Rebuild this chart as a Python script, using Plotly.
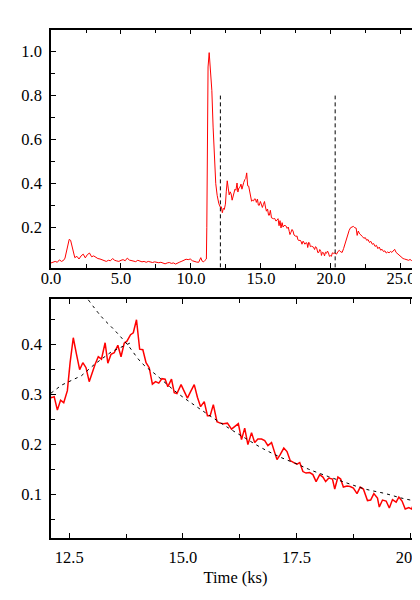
import plotly.graph_objects as go

# light curve: time (ks) and normalised count rate
t_ks = [
    0.0, 0.15, 0.3, 0.45, 0.6, 0.75, 0.9, 1.0, 1.1, 1.2, 1.3, 1.4, 1.5, 1.6, 1.7, 1.85,
    2.0, 2.15, 2.3, 2.45, 2.6, 2.75, 2.9, 3.05, 3.2, 3.35, 3.5, 3.65, 3.8, 3.95, 4.1, 4.25,
    4.4, 4.55, 4.7, 4.85, 5.0, 5.15, 5.3, 5.45, 5.6, 5.75, 5.9, 6.05, 6.2, 6.35, 6.5, 6.65,
    6.8, 6.95, 7.1, 7.25, 7.4, 7.55, 7.7, 7.85, 8.0, 8.15, 8.3, 8.45, 8.6, 8.75, 8.9, 9.05,
    9.2, 9.35, 9.5, 9.65, 9.8, 9.95, 10.1, 10.25, 10.4, 10.55, 10.7, 10.8, 10.9, 11.0, 11.1,
    11.13, 11.17, 11.22, 11.3, 11.39, 11.49, 11.58, 11.68, 11.77, 11.87, 11.99,
    12.10, 12.17, 12.24, 12.31, 12.38, 12.46, 12.52, 12.59, 12.66, 12.73, 12.80, 12.87,
    12.94, 13.00, 13.07, 13.14, 13.21, 13.29, 13.35, 13.42, 13.49, 13.57, 13.64, 13.71,
    13.77, 13.85, 13.91, 13.98, 14.05, 14.12, 14.19, 14.26, 14.33, 14.40, 14.47, 14.54,
    14.61, 14.67, 14.75, 14.81, 14.87, 14.96, 15.04, 15.10, 15.17, 15.25, 15.32, 15.39,
    15.47, 15.54, 15.60, 15.67, 15.75, 15.82, 15.89, 15.98, 16.07, 16.15, 16.22, 16.29,
    16.36, 16.43, 16.51, 16.58, 16.65, 16.73, 16.80, 16.87, 16.95, 17.02, 17.07, 17.14,
    17.22, 17.29, 17.36, 17.44, 17.51, 17.57, 17.64, 17.71, 17.79, 17.86, 17.93, 18.01,
    18.08, 18.14, 18.21, 18.29, 18.34, 18.41, 18.47, 18.53, 18.61, 18.68, 18.75, 18.83,
    18.90, 18.97, 19.06, 19.13, 19.20, 19.28, 19.32, 19.39, 19.47, 19.54, 19.61, 19.69,
    19.75, 19.82, 19.89, 19.97, 20.03, 20.10, 20.16, 20.22,
    20.29, 20.4, 20.5, 20.6, 20.7, 20.8, 20.9, 21.0, 21.1, 21.2, 21.3, 21.4, 21.5, 21.6,
    21.7, 21.8, 21.87, 21.95, 22.05, 22.15, 22.25, 22.35, 22.45, 22.55, 22.65, 22.75,
    22.85, 22.95, 23.05, 23.15, 23.25, 23.35, 23.45, 23.55, 23.65, 23.75, 23.85, 23.95,
    24.05, 24.15, 24.25, 24.35, 24.45, 24.55, 24.65, 24.75, 24.85, 24.95, 25.05, 25.15,
    25.25, 25.35, 25.45, 25.55, 25.65, 25.75, 25.85, 25.95, 26.05, 26.15, 26.25, 26.35, 26.45,
]
rate = [
    0.040, 0.044, 0.047, 0.043, 0.054, 0.047, 0.052, 0.062, 0.090, 0.125, 0.147, 0.143, 0.118, 0.085, 0.064, 0.070,
    0.058, 0.072, 0.080, 0.063, 0.078, 0.085, 0.068, 0.072, 0.064, 0.060, 0.058, 0.054, 0.050, 0.047, 0.052, 0.050,
    0.060, 0.052, 0.049, 0.047, 0.052, 0.055, 0.050, 0.062, 0.053, 0.050, 0.048, 0.046, 0.052, 0.049, 0.045, 0.047,
    0.043, 0.047, 0.045, 0.042, 0.045, 0.043, 0.041, 0.043, 0.038, 0.036, 0.040, 0.042, 0.038, 0.040, 0.035, 0.038,
    0.044, 0.048, 0.054, 0.057, 0.055, 0.058, 0.050, 0.046, 0.044, 0.043, 0.064, 0.048, 0.045, 0.052, 0.058,
    0.200, 0.600, 0.930, 0.995, 0.930, 0.824, 0.657, 0.491, 0.400, 0.347, 0.309,
    0.293, 0.295, 0.268, 0.288, 0.283, 0.307, 0.363, 0.413, 0.380, 0.349, 0.363, 0.353,
    0.325, 0.342, 0.360, 0.375, 0.370, 0.403, 0.362, 0.380, 0.383, 0.398, 0.375, 0.402,
    0.406, 0.419, 0.423, 0.449, 0.390, 0.389, 0.363, 0.353, 0.320, 0.325, 0.322, 0.331,
    0.330, 0.315, 0.330, 0.303, 0.301, 0.319, 0.305, 0.292, 0.305, 0.319, 0.294, 0.275,
    0.285, 0.257, 0.257, 0.279, 0.245, 0.242, 0.241, 0.242, 0.230, 0.235, 0.241, 0.209,
    0.232, 0.199, 0.223, 0.203, 0.210, 0.210, 0.207, 0.197, 0.203, 0.183, 0.169, 0.179,
    0.192, 0.185, 0.167, 0.163, 0.160, 0.163, 0.145, 0.142, 0.143, 0.139, 0.125, 0.139,
    0.134, 0.125, 0.132, 0.130, 0.110, 0.134, 0.130, 0.114, 0.116, 0.115, 0.112, 0.101,
    0.114, 0.110, 0.087, 0.088, 0.101, 0.092, 0.074, 0.088, 0.086, 0.072, 0.089, 0.084,
    0.094, 0.086, 0.070, 0.073, 0.070, 0.086, 0.083, 0.086,
    0.082, 0.080, 0.092, 0.097, 0.090, 0.088, 0.105, 0.128, 0.150, 0.168, 0.188, 0.200, 0.203, 0.206,
    0.200, 0.198, 0.165, 0.185, 0.172, 0.168, 0.160, 0.152, 0.155, 0.143, 0.146, 0.133,
    0.138, 0.125, 0.128, 0.115, 0.120, 0.105, 0.112, 0.098, 0.102, 0.092, 0.095, 0.085,
    0.090, 0.086, 0.092, 0.088, 0.098, 0.102, 0.088, 0.082, 0.074, 0.068, 0.064, 0.060,
    0.058, 0.056, 0.055, 0.052, 0.056, 0.051, 0.054, 0.058, 0.055, 0.059, 0.054, 0.058, 0.056,
]

# interval boundaries marked in the top panel
marker_t = [12.1, 20.3]
marker_y = [0.02, 0.80]

# dashed model curves in the zoomed panel
rise_t = [12.1, 12.33, 12.77, 13.06, 13.43, 13.9]
rise_v = [0.302, 0.318, 0.337, 0.360, 0.385, 0.405]
decay_t = [12.92, 13.21, 13.51, 13.80, 14.09, 14.42, 14.87, 15.27, 15.64, 16.01, 16.37,
           16.74, 17.14, 17.54, 17.76, 18.20, 18.61, 19.01, 19.45, 19.85, 20.18, 20.3]
decay_v = [0.489, 0.455, 0.427, 0.397, 0.363, 0.338, 0.303, 0.277, 0.254, 0.232, 0.212,
           0.192, 0.174, 0.159, 0.150, 0.135, 0.122, 0.110, 0.101, 0.091, 0.085, 0.083]

fig = go.Figure()
fig.add_trace(go.Scatter(x=t_ks, y=rate, mode="lines", line=dict(color="#ff0000", width=1),
                         xaxis="x", yaxis="y"))
for tm in marker_t:
    fig.add_trace(go.Scatter(x=[tm, tm], y=marker_y, mode="lines",
                             line=dict(color="black", width=1, dash="4px,3px"), xaxis="x", yaxis="y"))

fig.add_trace(go.Scatter(x=t_ks, y=rate, mode="lines", line=dict(color="#ff0000", width=1.5),
                         xaxis="x2", yaxis="y2"))
fig.add_trace(go.Scatter(x=rise_t, y=rise_v, mode="lines",
                         line=dict(color="black", width=1, dash="3px,4px"), xaxis="x2", yaxis="y2"))
fig.add_trace(go.Scatter(x=decay_t, y=decay_v, mode="lines", line_shape="spline",
                         line=dict(color="black", width=1, dash="3px,4px"), xaxis="x2", yaxis="y2"))

font = dict(family="Liberation Serif, Times New Roman, DejaVu Serif, serif", size=16.5, color="black")
ax = dict(showline=True, linecolor="black", linewidth=1.5, ticks="inside", ticklen=5,
          tickcolor="black", tickwidth=1, showgrid=False, zeroline=False, tickfont=font,
          tickformat=".1f", tick0=0, automargin=False)

# the page body has an 8px margin; keep the figure small enough that the page does not scroll
fig.update_layout(
    width=412, height=580,
    margin=dict(l=43, r=0, t=0, b=0),
    paper_bgcolor="white", plot_bgcolor="white",
    showlegend=False,
    xaxis=dict(ax, domain=[0, 1], range=[0, 26.36], dtick=5, mirror="ticks", anchor="y",
               ticklabelstandoff=-6, ticklabeloverflow="allow",
               minor=dict(dtick=2.5, ticks="inside", ticklen=4, tickcolor="black")),
    yaxis=dict(ax, domain=[0.5517, 0.9629], range=[0.017, 1.10], dtick=0.2, anchor="x",
               ticklabelstandoff=4,
               minor=dict(dtick=0.1, ticks="inside", ticklen=4, tickcolor="black")),
    xaxis2=dict(ax, domain=[0, 1], range=[12.1, 20.215], dtick=2.5, mirror="ticks", anchor="y2",
                ticklabelstandoff=3, ticklabeloverflow="allow",
                minor=dict(dtick=1.25, ticks="inside", ticklen=4, tickcolor="black"),
                title=dict(text="Time (ks)", font=font, standoff=6)),
    yaxis2=dict(ax, domain=[0.0862, 0.4978], range=[0.012, 0.49], dtick=0.1, anchor="x2",
                ticklabelstandoff=4,
                minor=dict(dtick=0.05, ticks="inside", ticklen=4, tickcolor="black")),
)

fig.write_html("out.html")
